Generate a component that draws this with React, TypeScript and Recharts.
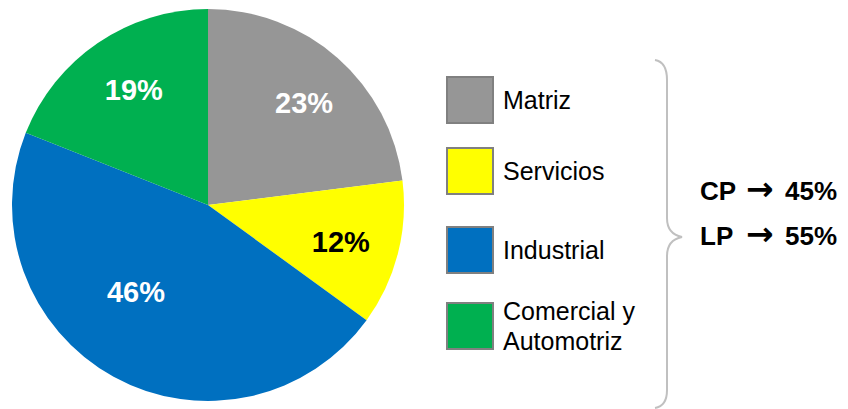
import { PieChart, Pie, Cell, Legend } from 'recharts'

const segments = ['Matriz', 'Servicios', 'Industrial', 'Comercial y Automotriz']
const shares = [23, 12, 46, 19]
const legendLines = [['Matriz'], ['Servicios'], ['Industrial'], ['Comercial y', 'Automotriz']]
const termNames = ['CP', 'LP']
const termShares = [45, 55]

const COLORS = ['#969696', '#ffff00', '#0070c0', '#00b050']
const LABEL_COLORS = ['#ffffff', '#000000', '#ffffff', '#ffffff']
const LABEL_NUDGE = [[4, 2], [-2, 2], [-5, -35], [4, 0]]
const FONT = '"Liberation Sans", Arial, sans-serif'
const RADIAN = Math.PI / 180

const data = segments.map((name, i) => ({ name, value: shares[i] }))

function renderLabel(props: any) {
  const { cx, cy, midAngle, outerRadius, index, value } = props
  const r = outerRadius * 0.71
  const x = cx + r * Math.cos(-midAngle * RADIAN) + LABEL_NUDGE[index][0]
  const y = cy + r * Math.sin(-midAngle * RADIAN) + LABEL_NUDGE[index][1]
  return (
    <text
      x={x}
      y={y}
      fill={LABEL_COLORS[index]}
      textAnchor="middle"
      dominantBaseline="central"
      fontSize={29}
      fontWeight="bold"
      fontFamily={FONT}
    >
      {`${value}%`}
    </text>
  )
}

// legend rows: square top
const ROW_TOP = [76, 147, 226, 302]

function LegendBox() {
  return (
    <div style={{ position: 'relative', width: 220, height: 360, fontFamily: FONT }}>
      {segments.map((s, i) => (
        <div key={s}>
          <div
            style={{
              position: 'absolute',
              left: 0,
              top: ROW_TOP[i],
              width: 44,
              height: 44,
              background: COLORS[i],
              border: '2px solid #808080',
            }}
          />
          <div
            style={{
              position: 'absolute',
              left: 57,
              top: ROW_TOP[i] + 24 - legendLines[i].length * 15,
              fontSize: 25,
              lineHeight: '30px',
              color: '#000',
              whiteSpace: 'nowrap',
            }}
          >
            {legendLines[i].map((l) => (
              <div key={l}>{l}</div>
            ))}
          </div>
        </div>
      ))}
    </div>
  )
}

export default function App() {
  return (
    <div style={{ position: 'absolute', left: 0, top: 0, width: 848, height: 409, background: '#fff' }}>
      <PieChart width={848} height={409} margin={{ top: 0, right: 0, bottom: 0, left: 0 }}>
        <Pie
          data={data}
          dataKey="value"
          nameKey="name"
          cx={208}
          cy={205}
          outerRadius={196}
          startAngle={90}
          endAngle={-270}
          stroke="none"
          label={renderLabel}
          labelLine={false}
          isAnimationActive={false}
        >
          {data.map((d, i) => (
            <Cell key={d.name} fill={COLORS[i]} />
          ))}
        </Pie>
        <Legend
          content={() => <LegendBox />}
          wrapperStyle={{ position: 'absolute', left: 446, top: 0, width: 220, height: 360 }}
        />
      </PieChart>
      <svg style={{ position: 'absolute', left: 0, top: 0 }} width={848} height={409}>
        <path
          d="M655 60 Q667 62 667 80 L667 218 Q667 234 682 237 Q667 240 667 256 L667 390 Q667 406 655 408"
          fill="none"
          stroke="#c0c0c0"
          strokeWidth={2}
        />
        {termNames.map((t, i) => (
          <text
            key={t}
            y={200 + i * 45}
            fontSize={26}
            fontWeight="bold"
            fontFamily={FONT}
            fill="#000"
          >
            <tspan x={700}>{t}</tspan>
            <tspan x={746} fontFamily='"DejaVu Sans", sans-serif' fontSize={33}>{'\u2192'}</tspan>
            <tspan x={785}>{`${termShares[i]}%`}</tspan>
          </text>
        ))}
      </svg>
    </div>
  )
}
